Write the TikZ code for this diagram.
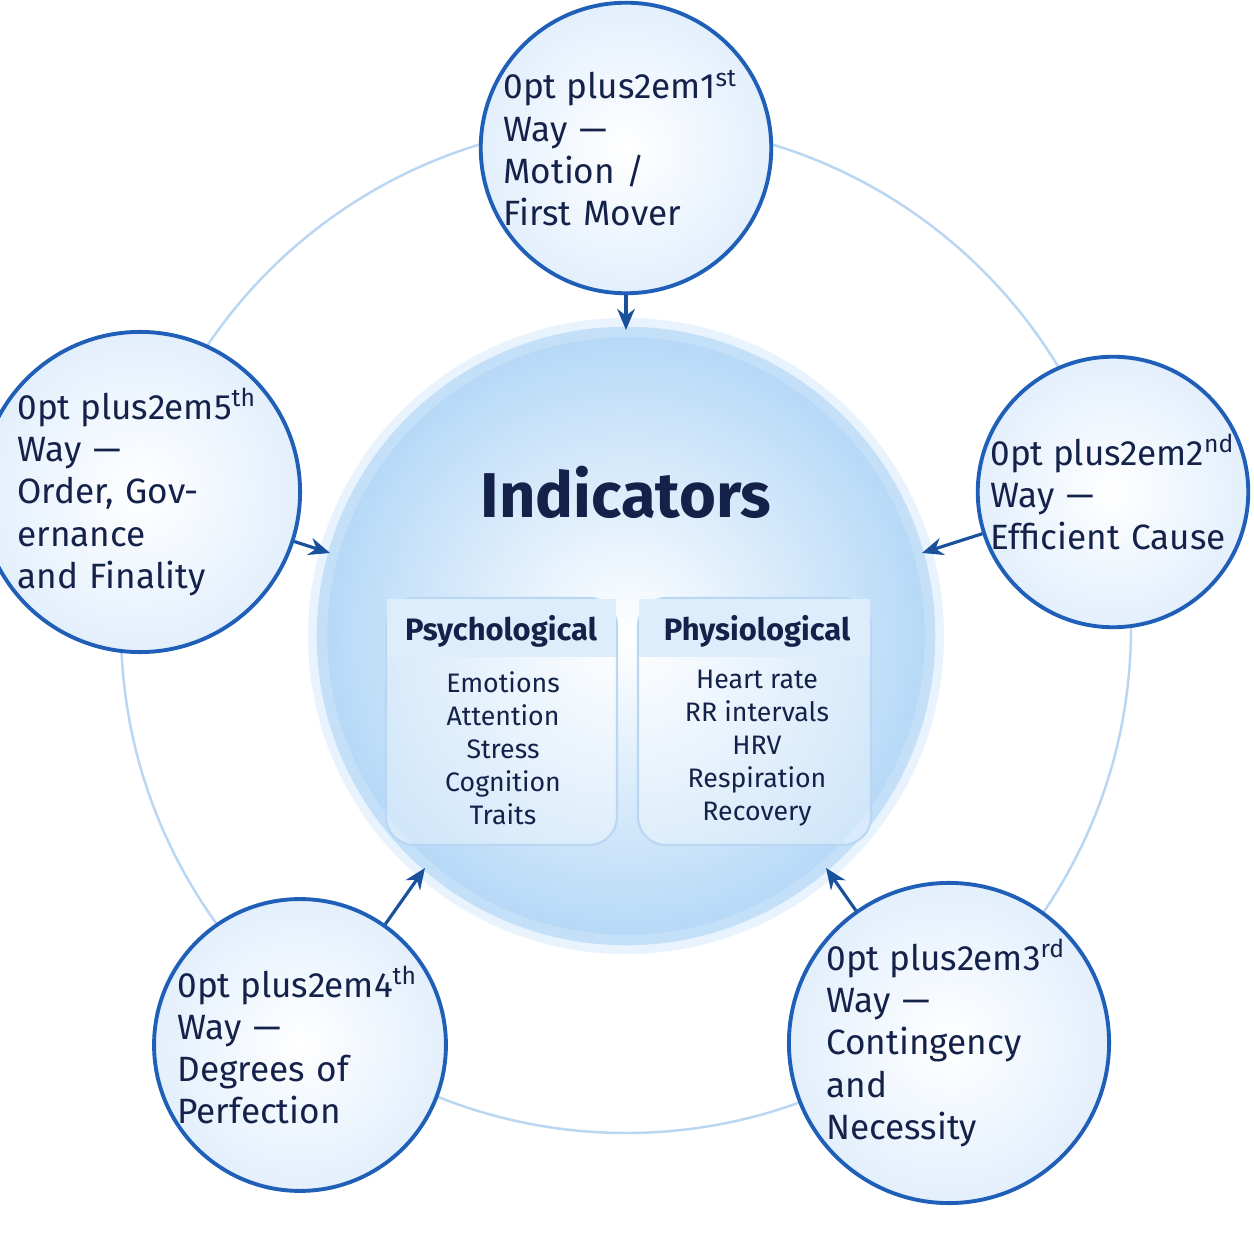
\documentclass[tikz,border=0pt]{standalone}
\usepackage{fontspec}
\setmainfont{Fira Sans}
\usetikzlibrary{arrows.meta}
\definecolor{navy}{HTML}{14224A}
\definecolor{ringblue}{HTML}{1F5FB8}
\definecolor{pale}{HTML}{E3EFFC}
\definecolor{hub}{HTML}{B5D8F7}
\definecolor{glow}{HTML}{E8F3FD}
\definecolor{faint}{HTML}{B9D6F2}
\tikzset{
  way/.style={circle,draw=ringblue,line width=1.1pt,inner color=white,outer color=pale,
    minimum size=2.5cm,inner sep=0pt,text width=2.45cm,align=center,text=navy,
    font=\hyphenpenalty=10000\fontseries{sb}\fontsize{8.6}{10.6}\selectfont},
  feed/.style={-{Stealth[length=6pt,width=5pt]},draw=ringblue!85!black,line width=0.9pt},
  panel/.style={draw=faint,rounded corners=8pt,fill=white,fill opacity=0.35,line width=0.6pt},
  item/.style={text=navy,font=\fontsize{7.6}{9.4}\selectfont,align=center}
}
\begin{document}
\begin{tikzpicture}[x=0.01cm,y=0.01cm]
   \useasboundingbox (0,0) rectangle (1254,1254);
   \fill[white] (0,0) rectangle (1254,1254);
   % ring
   \draw[faint,line width=0.7pt] (626,626) circle (505);
   % hub with glow
   \fill[glow] (626,618) circle (318);
   \shade[inner color=white,outer color=hub] (626,618) circle (307);
   \draw[hub!80,line width=3pt] (626,618) circle (304);
   \node (hub) at (626,618) {};
   \node[text=navy,font=\fontseries{sb}\fontsize{18}{20}\selectfont] (title) at (626,762) {Indicators};
   % panels
   \draw[panel] (386,409) rectangle (617,656);
   \fill[hub!45] (387,597) rectangle (616,655);
   \draw[panel] (638,409) rectangle (871,656);
   \fill[hub!45] (639,597) rectangle (870,655);
   \node[text=navy,font=\fontseries{sb}\fontsize{8.8}{10}\selectfont] (psy) at (501,623) {Psychological};
   \node[text=navy,font=\fontseries{sb}\fontsize{8.8}{10}\selectfont] (phy) at (757,623) {Physiological};
   \node[item] (psyitems) at (503,506) {Emotions\\Attention\\Stress\\Cognition\\Traits};
   \node[item] (phyitems) at (757,506) {Heart rate\\RR intervals\\HRV\\Respiration\\Recovery};
   % the five ways
   \node[way] (w1) at (626,1106) {1\textsuperscript{st} Way —\\Motion /\\First Mover};
   \node[way] (w2) at (1113,762) {2\textsuperscript{nd} Way —\\Efficient Cause};
   \node[way] (w3) at (949,211) {3\textsuperscript{rd} Way —\\Contingency and\\Necessity};
   \node[way] (w4) at (300,209) {4\textsuperscript{th} Way —\\Degrees of\\Perfection};
   \node[way] (w5) at (140,762) {5\textsuperscript{th} Way —\\Order, Governance\\and Finality};
   \coordinate (t1) at (626,924);
   \coordinate (t2) at (922,701);
   \coordinate (t3) at (826,386);
   \coordinate (t4) at (425,386);
   \coordinate (t5) at (330,701);
   \draw[feed] (w1) -- (t1);
   \draw[feed] (w2) -- (t2);
   \draw[feed] (w3) -- (t3);
   \draw[feed] (w4) -- (t4);
   \draw[feed] (w5) -- (t5);
\end{tikzpicture}
\end{document}
